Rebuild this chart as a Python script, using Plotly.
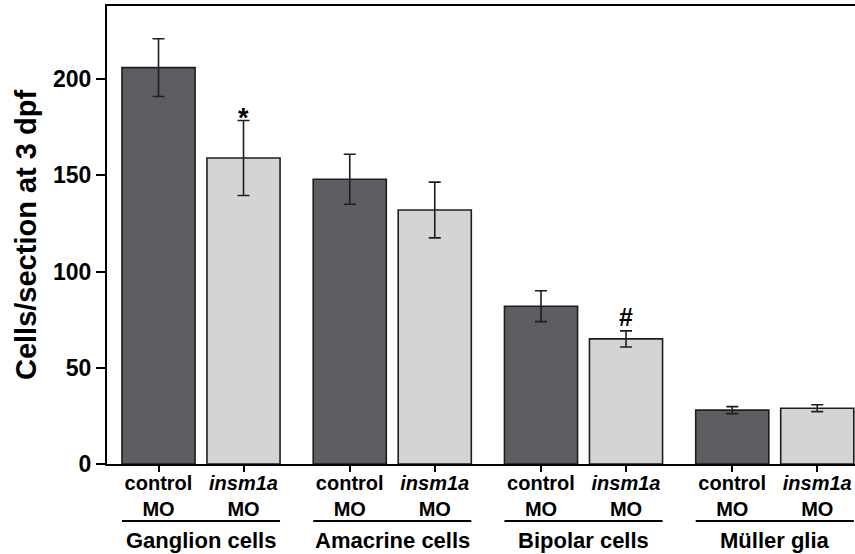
import plotly.graph_objects as go

# ---- data ----
groups = ["Ganglion cells", "Amacrine cells", "Bipolar cells", "Müller glia"]
treatments = ["control<br>MO", "<i>insm1a</i><br>MO"]
control_mean = [206, 148, 82, 28]
control_sem = [15, 13, 8, 1.8]
insm1a_mean = [159, 132, 65, 29]
insm1a_sem = [19.5, 14.5, 4.2, 1.8]
control_marks = ["", "", "", ""]
insm1a_marks = ["*", "", "#", ""]
y_ticks = [0, 50, 100, 150, 200]
y_title = "Cells/section at 3 dpf"

FONT = "Liberation Sans, Arial, Helvetica, sans-serif"
GROUP_STEP = 2.25
BAR_W = 0.86
DARK = "#5e5d62"
LIGHT = "#d4d4d4"
EDGE = "#1e1e1e"

x_ctrl = [g * GROUP_STEP for g in range(len(groups))]
x_ins = [g * GROUP_STEP + 1 for g in range(len(groups))]

fig = go.Figure()
for xs, ys, es, col in [(x_ctrl, control_mean, control_sem, DARK),
                        (x_ins, insm1a_mean, insm1a_sem, LIGHT)]:
    fig.add_trace(go.Bar(
        x=xs, y=ys, width=BAR_W,
        marker=dict(color=col, line=dict(color=EDGE, width=1.6)),
        error_y=dict(type="data", array=es, visible=True, color=EDGE,
                     thickness=1.6, width=6),
        showlegend=False,
    ))

# significance marks
for xs, ys, es, ms in [(x_ctrl, control_mean, control_sem, control_marks),
                       (x_ins, insm1a_mean, insm1a_sem, insm1a_marks)]:
    for x, y, e, m in zip(xs, ys, es, ms):
        if m:
            fig.add_annotation(x=x, y=y + e, text=m, showarrow=False,
                               yanchor="bottom",
                               yshift=-14 if m == "*" else -2,
                               font=dict(family=FONT, size=27 if m == "*" else 25,
                                         color="black", weight="bold"))

# group underlines and labels
for g, name in enumerate(groups):
    x0 = x_ctrl[g] - BAR_W / 2
    x1 = x_ins[g] + BAR_W / 2
    fig.add_shape(type="line", xref="x", yref="paper", x0=x0, x1=x1,
                  y0=-0.1245, y1=-0.1245, line=dict(color="black", width=2))
    fig.add_annotation(x=(x_ctrl[g] + x_ins[g]) / 2, y=-0.167, xref="x",
                       yref="paper", text=name, showarrow=False,
                       yanchor="middle",
                       font=dict(family=FONT, size=22, color="black",
                                 weight="bold"))

tickvals = []
ticktext = []
for g in range(len(groups)):
    tickvals += [x_ctrl[g], x_ins[g]]
    ticktext += treatments

fig.update_layout(
    width=855, height=554,
    margin=dict(l=107, r=0, t=6, b=90),
    plot_bgcolor="white", paper_bgcolor="white",
    barmode="overlay",
    font=dict(family=FONT, color="black", weight="bold"),
    xaxis=dict(range=[-0.606, 8.194], tickvals=tickvals, ticktext=ticktext,
               showline=True, linecolor="black", linewidth=2, mirror=True,
               ticks="outside", ticklen=6, tickwidth=2, tickcolor="black",
               ticklabelstandoff=-6,
               showgrid=False, zeroline=False,
               tickfont=dict(family=FONT, size=20, color="black",
                             weight="bold")),
    yaxis=dict(range=[0, 238], tickvals=y_ticks,
               showline=True, linecolor="black", linewidth=2,
               ticks="outside", ticklen=9, tickwidth=2, tickcolor="black",
               showgrid=False, zeroline=False,
               tickfont=dict(family=FONT, size=23, color="black",
                             weight="bold"),
               title=dict(text=y_title, standoff=8,
                          font=dict(family=FONT, size=29, color="black",
                                    weight="bold"))),
)

fig.write_html("out.html", config={"displayModeBar": False},
               post_script="document.body.style.margin='0px';")
